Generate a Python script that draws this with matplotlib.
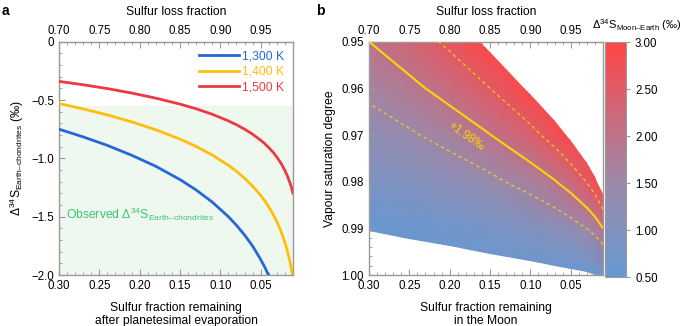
import numpy as np
import matplotlib
matplotlib.use("Agg")
import matplotlib.pyplot as plt
from matplotlib.colors import LinearSegmentedColormap
from matplotlib.ticker import MultipleLocator

plt.rcParams['font.family'] = ['Liberation Sans', 'DejaVu Sans']
plt.rcParams['font.size'] = 8.5
plt.rcParams['mathtext.fontset'] = 'custom'
plt.rcParams['mathtext.rm'] = 'Liberation Sans'
plt.rcParams['mathtext.it'] = 'Liberation Sans:italic'

# ---- panel a: curves ----
f_remaining = [0.30, 0.27, 0.24, 0.21, 0.18, 0.15, 0.13, 0.11, 0.09, 0.08, 0.07, 0.06,
               0.05, 0.045, 0.04, 0.035, 0.03, 0.025, 0.02, 0.017, 0.014, 0.012, 0.01]
d_1300 = [-0.750, -0.816, -0.889, -0.973, -1.068, -1.182, -1.271, -1.375, -1.500, -1.574,
          -1.657, -1.752, -1.867, -1.932, -2.005, -2.088, -2.185, -2.298, -2.437, -2.539,
          -2.660, -2.756, -2.869]
d_1400 = [-0.530, -0.576, -0.628, -0.687, -0.755, -0.835, -0.898, -0.971, -1.060, -1.111,
          -1.170, -1.238, -1.318, -1.364, -1.416, -1.475, -1.543, -1.623, -1.721, -1.793,
          -1.878, -1.946, -2.026]
d_1500 = [-0.340, -0.369, -0.402, -0.440, -0.484, -0.535, -0.575, -0.622, -0.679, -0.712,
          -0.750, -0.793, -0.845, -0.874, -0.908, -0.945, -0.989, -1.040, -1.103, -1.149,
          -1.204, -1.247, -1.299]
temps = ['1,300 K', '1,400 K', '1,500 K']
curve_colors = ['#2468d8', '#ffbe0b', '#ec3a41']
observed_top = -0.55

# ---- panel b: Δ34S Moon-Earth grid (rows: saturation, cols: remaining) ----
f_grid = [0.30, 0.25, 0.20, 0.15, 0.10, 0.07, 0.05, 0.03, 0.02, 0.01]
sat_grid = [0.95, 0.96, 0.97, 0.98, 0.99, 1.00]
d_moon = [
    [1.98, 2.28, 2.65, 3.12, 3.79, 4.38, 4.93, 5.77, 6.44, 7.58],
    [1.62, 1.86, 2.16, 2.55, 3.09, 3.57, 4.02, 4.71, 5.25, 6.18],
    [1.25, 1.44, 1.67, 1.97, 2.39, 2.76, 3.11, 3.64, 4.06, 4.78],
    [0.88, 1.02, 1.18, 1.39, 1.69, 1.95, 2.20, 2.57, 2.87, 3.38],
    [0.52, 0.60, 0.69, 0.82, 0.99, 1.14, 1.29, 1.51, 1.68, 1.98],
    [0.15, 0.17, 0.20, 0.24, 0.29, 0.34, 0.38, 0.44, 0.49, 0.58],
]
best_value = 1.98
range_values = [1.50, 2.55]

spine_col = '#9a9a9a'
tick_fs = 8.3
label_fs = 8.7


def style_axis(ax):
    for s in ax.spines.values():
        s.set_color(spine_col)
        s.set_linewidth(1.0)
    ax.tick_params(which='both', direction='in', color=spine_col, labelsize=tick_fs)
    ax.tick_params(which='major', length=4)
    ax.tick_params(which='minor', length=2)
    ax.set_xlim(0.30, 0.01)
    ax.set_xticks([0.30, 0.25, 0.20, 0.15, 0.10, 0.05])
    ax.set_xticklabels(['0.30', '0.25', '0.20', '0.15', '0.10', '0.05'])
    ax.xaxis.set_minor_locator(MultipleLocator(0.01))
    top = ax.secondary_xaxis('top', functions=(lambda x: 1 - x, lambda x: 1 - x))
    top.set_xticks([0.70, 0.75, 0.80, 0.85, 0.90, 0.95])
    top.set_xticklabels(['0.70', '0.75', '0.80', '0.85', '0.90', '0.95'])
    top.xaxis.set_minor_locator(MultipleLocator(0.01))
    top.tick_params(which='both', direction='in', color=spine_col, labelsize=tick_fs)
    top.tick_params(which='major', length=4)
    top.tick_params(which='minor', length=2)
    top.spines['top'].set_color(spine_col)
    top.set_xlabel('Sulfur loss fraction', fontsize=label_fs, labelpad=7)
    return top


fig = plt.figure(figsize=(6.85, 3.26), dpi=100)

# ---------------- panel a ----------------
ax1 = fig.add_axes([0.0861, 0.1564, 0.3416, 0.7157])
ax1.axhspan(-2.5, observed_top, color='#eef8ef', lw=0, zorder=0)
for d, lab, c in zip([d_1300, d_1400, d_1500], temps, curve_colors):
    ax1.plot(f_remaining, d, color=c, lw=2, label=lab, zorder=3)
ax1.set_ylim(-2.0, 0)
style_axis(ax1)
ax1.set_yticks([0, -0.5, -1.0, -1.5, -2.0])
ax1.set_yticklabels(['0', '\u22120.5', '\u22121.0', '\u22121.5', '\u22122.0'])
ax1.yaxis.set_minor_locator(MultipleLocator(0.1))
ax1.set_ylabel('\u0394$^{34}$S$_{\\mathrm{Earth\u2013chondrites}}$ (\u2030)', fontsize=label_fs, labelpad=4)
ax1.set_xlabel('Sulfur fraction remaining\nafter planetesimal evaporation', fontsize=label_fs,
               labelpad=7, linespacing=1.15)
ax1.legend(loc='upper right', frameon=False, handlelength=3.3, handletextpad=0.3,
           labelspacing=0.3, borderaxespad=0.3, fontsize=label_fs, labelcolor=curve_colors)
ax1.text(0.291, -1.48, 'Observed \u0394$^{34}$S$_{\\mathrm{Earth\u2013chondrites}}$',
         color='#3ec46d', fontsize=label_fs, va='center', ha='left')

# ---------------- panel b ----------------
ax2 = fig.add_axes([0.5387, 0.1564, 0.3416, 0.7157])
cmap = LinearSegmentedColormap.from_list(
    'moon', [(0.0, '#6699d2'), (0.4, '#9c89aa'), (1.0, '#ff4646')])
F, S = np.meshgrid(f_grid, sat_grid)
Z = np.array(d_moon)
# region where 0.5 <= value <= 3.0, used to clip the smooth colour field
band = ax2.contourf(F, S, Z, levels=[0.5, 3.0], colors='none')
mesh = ax2.pcolormesh(F, S, Z, shading='gouraud', cmap=cmap, vmin=0.5, vmax=3.0, zorder=1)
clip = band.get_paths()[0]
mesh.set_clip_path(clip, ax2.transData)
ax2.contour(F, S, Z, levels=[best_value], colors='#ffd400', linewidths=1.5, zorder=3)
ax2.contour(F, S, Z, levels=range_values, colors='#ffd400', linewidths=0.8,
            linestyles=[(0, (3, 3))], zorder=3)
ax2.text(0.18, 0.9703, '+1.98\u2030', color='#ffd400', fontsize=8.5, rotation=-35,
         ha='center', va='center', zorder=4)
ax2.set_ylim(1.00, 0.95)
style_axis(ax2)
ax2.set_yticks([0.95, 0.96, 0.97, 0.98, 0.99, 1.00])
ax2.set_yticklabels(['0.95', '0.96', '0.97', '0.98', '0.99', '1.00'])
ax2.yaxis.set_minor_locator(MultipleLocator(0.002))
ax2.set_ylabel('Vapour saturation degree', fontsize=label_fs, labelpad=4)
ax2.set_xlabel('Sulfur fraction remaining\nin the Moon', fontsize=label_fs, labelpad=7,
               linespacing=1.15)

cax = fig.add_axes([0.8832, 0.150, 0.0307, 0.721])
cb = fig.colorbar(mesh, cax=cax, ticks=[0.5, 1.0, 1.5, 2.0, 2.5, 3.0])
cb.ax.set_yticklabels(['0.50', '1.00', '1.50', '2.00', '2.50', '3.00'])
cb.ax.tick_params(direction='out', length=3, color=spine_col, labelsize=tick_fs)
cb.outline.set_edgecolor(spine_col)
cb.ax.minorticks_off()
fig.text(0.864, 0.912, '\u0394$^{34}$S$_{\\mathrm{Moon\u2013Earth}}$ (\u2030)', fontsize=8.0,
         ha='left', va='baseline')

fig.text(0.003, 0.965, 'a', fontsize=10, fontweight='bold', va='center')
fig.text(0.461, 0.965, 'b', fontsize=10, fontweight='bold', va='center')

fig.savefig('out.png', dpi=100)
